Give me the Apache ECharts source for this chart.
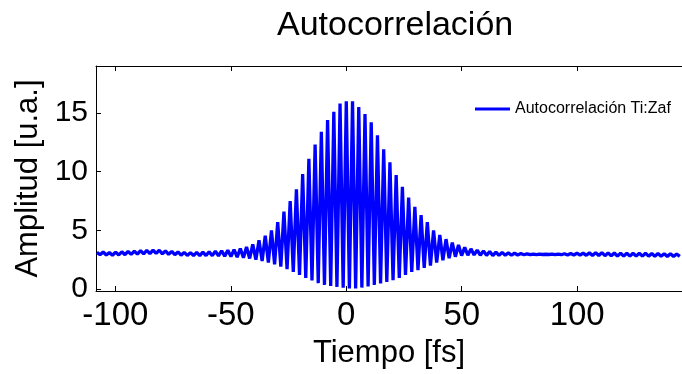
<!DOCTYPE html>
<html>
<head>
<meta charset="utf-8">
<script src="https://cdn.jsdelivr.net/npm/echarts@6/dist/echarts.min.js"></script>
<style>
  html, body { margin: 0; padding: 0; background: #fff; }
  #chart { width: 682px; height: 374px; }
</style>
</head>
<body>
<div id="chart"></div>
<script>
// fringe grid: one peak + one trough per optical cycle (~2.7 fs)
const startTime = -108;
const fringePeriod = 2.7;

// peak (upper) and trough (lower) values of every fringe
const upper = [
  3.12, 3.15, 3.10, 3.14, 3.17, 3.20, 3.22, 3.27, 3.30, 3.32,
  3.30, 3.25, 3.20, 3.16, 3.12, 3.10, 3.12, 3.15, 3.18, 3.22,
  3.26, 3.30, 3.36, 3.45, 3.58, 3.80, 4.15, 4.55, 5.00, 5.70,
  6.60, 7.50, 8.50, 9.80, 11.1, 12.3, 13.4, 14.4, 15.1, 15.8,
  16.0, 16.0, 15.5, 14.9, 14.2, 13.1, 11.9, 10.8, 9.70, 8.70,
  7.80, 7.00, 6.30, 5.70, 5.00, 4.60, 4.25, 3.95, 3.75, 3.55,
  3.42, 3.32, 3.25, 3.20, 3.15, 3.12, 3.08, 3.05, 3.02, 3.00,
  2.98, 2.97, 2.96, 2.97, 2.98, 3.00, 3.03, 3.05, 3.06, 3.08,
  3.10, 3.10, 3.08, 3.07, 3.06, 3.05, 3.05, 3.04, 3.04, 3.03,
  3.02, 3.00, 3.00, 2.98
];
const lower = [
  2.92, 2.90, 2.88, 2.90, 2.92, 2.95, 2.97, 3.00, 3.02, 3.03,
  3.00, 2.96, 2.92, 2.88, 2.86, 2.85, 2.84, 2.85, 2.84, 2.82,
  2.80, 2.76, 2.72, 2.66, 2.60, 2.50, 2.38, 2.25, 2.10, 1.90,
  1.70, 1.45, 1.20, 0.95, 0.72, 0.50, 0.35, 0.25, 0.18, 0.10,
  0.05, 0.05, 0.12, 0.22, 0.35, 0.48, 0.60, 0.75, 0.95, 1.20,
  1.45, 1.60, 1.80, 2.00, 2.25, 2.45, 2.62, 2.75, 2.85, 2.88,
  2.90, 2.88, 2.86, 2.85, 2.86, 2.88, 2.88, 2.90, 2.92, 2.93,
  2.93, 2.94, 2.94, 2.93, 2.92, 2.90, 2.90, 2.88, 2.87, 2.86,
  2.85, 2.84, 2.82, 2.80, 2.80, 2.80, 2.80, 2.80, 2.80, 2.79,
  2.79, 2.78, 2.78, 2.78
];

const xTicks = [-100, -50, 0, 50, 100];
const yTicks = [0, 5, 10, 15];

const points = [];
upper.forEach((u, i) => {
  const t = startTime + i * fringePeriod;
  points.push([t, u]);
  points.push([t + fringePeriod / 2, lower[i]]);
});

const font = 'Liberation Sans, Arial, sans-serif';
const chart = echarts.init(document.getElementById('chart'), null, { renderer: 'canvas' });

chart.setOption({
  animation: false,
  backgroundColor: '#fff',
  title: {
    text: 'Autocorrelación',
    left: 272,
    top: 4,
    textStyle: { fontFamily: font, fontSize: 34, fontWeight: 'normal', color: '#000' }
  },
  legend: {
    left: 470,
    top: 96,
    icon: 'rect',
    itemWidth: 35,
    itemHeight: 3,
    textStyle: { fontFamily: font, fontSize: 16, color: '#000' },
    data: ['Autocorrelación Ti:Zaf']
  },
  grid: { left: 96, right: 0, top: 66, bottom: 76 },
  xAxis: [
    {
      type: 'value',
      min: -108.4,
      max: 145.4,
      splitLine: { show: false },
      axisLine: { onZero: false, lineStyle: { color: '#000', width: 1 } },
      axisTick: { inside: true, length: 5, customValues: xTicks, lineStyle: { color: '#000' } },
      axisLabel: { customValues: xTicks, margin: 8, color: '#000', fontFamily: font, fontSize: 33 },
      name: 'Tiempo [fs]',
      nameLocation: 'middle',
      nameGap: 47,
      nameTextStyle: { fontFamily: font, fontSize: 31, color: '#000' }
    },
    {
      type: 'value',
      position: 'top',
      min: -108.4,
      max: 145.4,
      splitLine: { show: false },
      axisLine: { onZero: false, lineStyle: { color: '#000', width: 1 } },
      axisTick: { inside: true, length: 5, customValues: xTicks, lineStyle: { color: '#000' } },
      axisLabel: { show: false }
    }
  ],
  yAxis: {
    type: 'value',
    min: -0.17,
    max: 19,
    splitLine: { show: false },
    axisLine: { show: true, onZero: false, lineStyle: { color: '#000', width: 1 } },
    axisTick: { show: true, inside: true, length: 5, customValues: yTicks, lineStyle: { color: '#000' } },
    axisLabel: { customValues: yTicks, margin: 8, color: '#000', fontFamily: font, fontSize: 30 },
    name: 'Amplitud [u.a.]',
    nameLocation: 'middle',
    nameGap: 52,
    nameTextStyle: { fontFamily: font, fontSize: 31, color: '#000' }
  },
  series: [{
    name: 'Autocorrelación Ti:Zaf',
    type: 'line',
    xAxisIndex: 0,
    data: points,
    symbol: 'none',
    lineStyle: { color: '#0000ff', width: 3.3 },
    itemStyle: { color: '#0000ff' }
  }]
});
</script>
</body>
</html>
